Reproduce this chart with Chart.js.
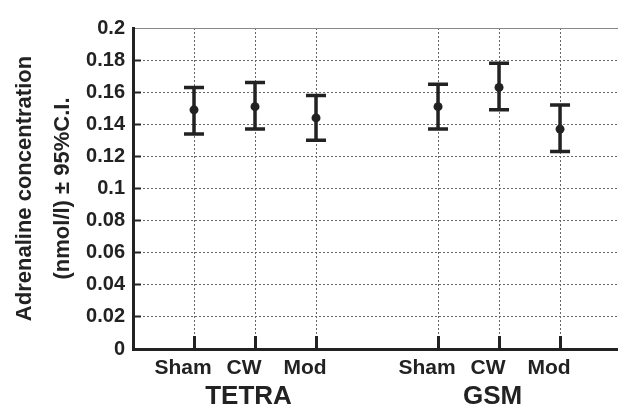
<!DOCTYPE html>
<html>
<head>
<meta charset="utf-8">
<script src="https://cdn.jsdelivr.net/npm/chart.js@4/dist/chart.umd.min.js"></script>
<style>
html,body{margin:0;padding:0;background:#fff;}
#wrap{width:618px;height:410px;}
</style>
</head>
<body>
<div id="wrap"><canvas id="c" width="618" height="410"></canvas></div>
<script>
// ---- data ----
const groups = ['TETRA', 'GSM'];
const conditions = ['Sham', 'CW', 'Mod'];
const tetraMean  = [0.149, 0.151, 0.144];
const tetraLower = [0.134, 0.137, 0.130];
const tetraUpper = [0.163, 0.166, 0.158];
const gsmMean    = [0.151, 0.163, 0.137];
const gsmLower   = [0.137, 0.149, 0.123];
const gsmUpper   = [0.165, 0.178, 0.152];
const yTickValues = [0, 0.02, 0.04, 0.06, 0.08, 0.1, 0.12, 0.14, 0.16, 0.18, 0.2];
const yTitle = ['Adrenaline concentration', '(nmol/l) \u00b1 95%C.I.'];

// ---- build ----
const seriesMean = [tetraMean, gsmMean];
const seriesLower = [tetraLower, gsmLower];
const seriesUpper = [tetraUpper, gsmUpper];
const slot = (gi, ci) => gi * (conditions.length + 1) + ci + 1;

const points = [];
const condTicks = [{value: 0, label: ''}];
const groupTicks = [];
groups.forEach((g, gi) => {
  conditions.forEach((c, ci) => {
    points.push({x: slot(gi, ci), y: seriesMean[gi][ci], lo: seriesLower[gi][ci], hi: seriesUpper[gi][ci]});
    condTicks.push({value: slot(gi, ci), label: c});
  });
  groupTicks.push({value: slot(gi, 1), label: g});
});
const labelFor = (list, v) => { const t = list.find(t => Math.abs(t.value - v) < 1e-9); return t ? t.label : ''; };

const INK = '#222';
const FONT = "'Liberation Sans', Arial, Helvetica, sans-serif";
const isTop = v => Math.abs(v - 0.2) < 1e-9;

const errorBars = {
  id: 'errorBars',
  afterDatasetsDraw(chart) {
    const ctx = chart.ctx;
    const ys = chart.scales.y;
    chart.data.datasets.forEach((ds, di) => {
      const meta = chart.getDatasetMeta(di);
      meta.data.forEach((pt, i) => {
        const d = ds.data[i];
        const yLo = ys.getPixelForValue(d.lo);
        const yHi = ys.getPixelForValue(d.hi);
        ctx.save();
        ctx.strokeStyle = INK;
        ctx.lineWidth = 3.5;
        ctx.beginPath();
        ctx.moveTo(pt.x, yLo); ctx.lineTo(pt.x, yHi);
        ctx.moveTo(pt.x - 10, yLo); ctx.lineTo(pt.x + 10, yLo);
        ctx.moveTo(pt.x - 10, yHi); ctx.lineTo(pt.x + 10, yHi);
        ctx.stroke();
        ctx.restore();
      });
    });
  }
};

new Chart(document.getElementById('c'), {
  type: 'scatter',
  data: {
    datasets: [{
      data: points,
      pointRadius: 4.5,
      pointHoverRadius: 4.5,
      backgroundColor: INK,
      borderColor: INK,
      borderWidth: 0,
      showLine: false
    }]
  },
  plugins: [errorBars],
  options: {
    responsive: false,
    devicePixelRatio: 1,
    animation: false,
    layout: {autoPadding: false, padding: {top: 22, left: 0, right: 0, bottom: 0}},
    plugins: {legend: {display: false}, tooltip: {enabled: false}},
    scales: {
      x: {
        type: 'linear',
        position: 'bottom',
        min: 0,
        max: 7.95,
        afterBuildTicks: s => { s.ticks = condTicks.map(t => ({value: t.value})); },
        afterFit: s => { s.height = 29; s.paddingLeft = 0; s.paddingRight = 0; },
        ticks: {
          callback: v => labelFor(condTicks, v),
          font: {family: FONT, size: 21, weight: 'bold'},
          color: INK,
          padding: 19.5,
          labelOffset: -11,
          maxRotation: 0,
          autoSkip: false
        },
        grid: {
          color: '#666',
          lineWidth: 1,
          tickLength: -13,
          tickWidth: 3,
          tickColor: INK,
          tickBorderDash: []
        },
        border: {display: true, color: INK, width: 3, dash: [2, 2]}
      },
      x2: {
        type: 'linear',
        position: 'bottom',
        min: 0,
        max: 7.95,
        afterBuildTicks: s => { s.ticks = groupTicks.map(t => ({value: t.value})); },
        afterFit: s => { s.height = 32; s.paddingLeft = 0; s.paddingRight = 0; },
        ticks: {
          callback: v => labelFor(groupTicks, v),
          font: {family: FONT, size: 26, weight: 'bold'},
          color: INK,
          padding: 3,
          labelOffset: -6.5,
          maxRotation: 0,
          autoSkip: false
        },
        grid: {display: false, drawTicks: false},
        border: {display: false}
      },
      y: {
        type: 'linear',
        min: 0,
        max: 0.2,
        afterBuildTicks: s => { s.ticks = yTickValues.map(v => ({value: v})); },
        afterFit: s => { s.width = 133; },
        ticks: {
          callback: v => String(Number(v.toFixed(2))),
          font: {family: FONT, size: 20, weight: 'bold'},
          color: INK,
          padding: 16
        },
        grid: {
          color: ctx => (ctx.tick && isTop(ctx.tick.value)) ? '#888' : '#666',
          lineWidth: 1,
          tickLength: -8,
          tickWidth: 2,
          tickColor: ctx => (ctx.tick && isTop(ctx.tick.value)) ? 'rgba(0,0,0,0)' : INK,
          tickBorderDash: []
        },
        border: {
          display: true,
          color: INK,
          width: 3,
          dash: ctx => (ctx.tick && isTop(ctx.tick.value)) ? [] : [2, 2]
        },
        title: {
          display: true,
          text: yTitle,
          font: {family: FONT, size: 22, weight: 'bold', lineHeight: 1.73},
          color: INK,
          padding: {top: 6, bottom: 0}
        }
      }
    }
  }
});
</script>
</body>
</html>
